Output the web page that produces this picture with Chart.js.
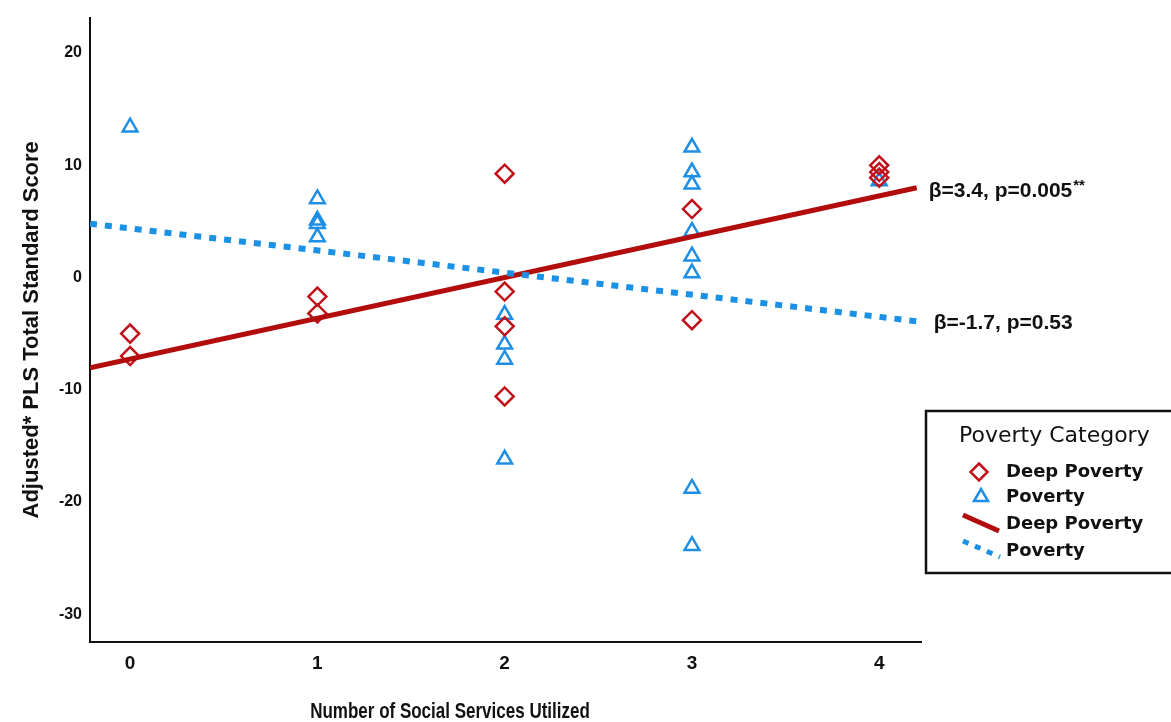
<!DOCTYPE html>
<html><head><meta charset="utf-8">
<script src="https://cdn.jsdelivr.net/npm/chart.js@4.4.0/dist/chart.umd.min.js"></script>
<style>html,body{margin:0;padding:0;background:#fff;overflow:hidden;} #wrap{width:1171px;height:722px;}</style>
</head><body><div id="wrap"><canvas id="c" width="1171" height="722"></canvas></div>
<script>
// ---- data ----
const xTicks = [0, 1, 2, 3, 4];
const yTicks = [-30, -20, -10, 0, 10, 20];
const deepX = [0, 0, 1, 1, 2, 2, 2, 2, 3, 3, 4, 4, 4];
const deepY = [-5.0, -7.0, -1.7, -3.2, 9.25, -1.25, -4.35, -10.6, 6.1, -3.8, 10.0, 9.4, 8.9];
const povX = [0, 1, 1, 1, 1, 2, 2, 2, 2, 3, 3, 3, 3, 3, 3, 3, 3, 4];
const povY = [13.4, 7.0, 5.1, 4.8, 3.6, -3.3, -5.95, -7.3, -16.2, 11.6, 9.4, 8.3, 4.1, 1.9, 0.4, -18.8, -23.9, 8.6];
const fitX = [-0.214, 4.2];
const deepFitY = [-8.05, 8.0];
const povFitY = [4.8, -3.9];
const xLimits = [-0.214, 4.223];
const yLimits = [-32.48, 23.16];
const seriesNames = ['Deep Poverty', 'Poverty'];
const legendTitle = 'Poverty Category';
const deepNote = ['β=3.4, p=0.005', '**'];
const povNote = 'β=-1.7, p=0.53';
const xTitle = 'Number of Social Services Utilized';
const yTitle = 'Adjusted* PLS Total Standard Score';

const RED = '#c0121a', RED_LINE = '#b30c0c', BLUE = '#1f8fe5', BLUE_LINE = '#1b91e6';
const pts = (xs, ys) => xs.map((x, i) => ({x: x, y: ys[i]}));

const extras = {
  id: 'extras',
  afterDraw(chart) {
    const ctx = chart.ctx, xs = chart.scales.x, ys = chart.scales.y;
    ctx.save();
    // x-axis title (tall, narrow lettering as in the reference)
    ctx.save();
    ctx.fillStyle = '#111';
    ctx.font = "bold 17px 'Liberation Sans', Arial, sans-serif";
    ctx.textAlign = 'center'; ctx.textBaseline = 'middle';
    ctx.translate(450, 712);
    ctx.scale(1, 1.3);
    ctx.fillText(xTitle, 0, 0);
    ctx.restore();
    // annotations at line ends
    ctx.fillStyle = '#111';
    ctx.textBaseline = 'middle';
    ctx.textAlign = 'left';
    ctx.font = "bold 21px 'Liberation Sans', Arial, sans-serif";
    const dx = xs.getPixelForValue(fitX[1]), dy = ys.getPixelForValue(deepFitY[1]);
    ctx.fillText(deepNote[0], dx + 12, dy + 3);
    const w = ctx.measureText(deepNote[0]).width;
    ctx.font = "bold 15px 'Liberation Sans', Arial, sans-serif";
    ctx.fillText(deepNote[1], dx + 12 + w + 1, dy - 2);
    ctx.font = "bold 21px 'Liberation Sans', Arial, sans-serif";
    const py = ys.getPixelForValue(povFitY[1]);
    ctx.fillText(povNote, dx + 17, py + 2);
    // legend box
    ctx.strokeStyle = '#111'; ctx.lineWidth = 2.5;
    ctx.strokeRect(926, 411, 270, 162);
    ctx.font = "22px 'DejaVu Sans', sans-serif";
    ctx.fillStyle = '#111';
    ctx.fillText(legendTitle, 959, 436);
    ctx.font = "bold 18px 'DejaVu Sans', sans-serif";
    const tx = 1006;
    const rows = [472, 497, 524, 551];
    // diamond
    ctx.strokeStyle = RED; ctx.lineWidth = 2.5;
    ctx.beginPath(); ctx.moveTo(979, rows[0] - 8.5); ctx.lineTo(987.5, rows[0]); ctx.lineTo(979, rows[0] + 8.5); ctx.lineTo(970.5, rows[0]); ctx.closePath(); ctx.stroke();
    // triangle
    ctx.strokeStyle = BLUE;
    ctx.beginPath(); ctx.moveTo(981, rows[1] - 8); ctx.lineTo(988, rows[1] + 4); ctx.lineTo(974, rows[1] + 4); ctx.closePath(); ctx.stroke();
    // red line
    ctx.strokeStyle = RED_LINE; ctx.lineWidth = 5; ctx.lineCap = 'butt';
    ctx.beginPath(); ctx.moveTo(963, 515); ctx.lineTo(999, 531); ctx.stroke();
    // dotted blue line
    ctx.strokeStyle = BLUE_LINE; ctx.lineWidth = 5; ctx.setLineDash([6, 7]);
    ctx.beginPath(); ctx.moveTo(963, 541); ctx.lineTo(1000, 557); ctx.stroke();
    ctx.setLineDash([]);
    ctx.fillStyle = '#111';
    ctx.fillText(seriesNames[0], tx, rows[0]);
    ctx.fillText(seriesNames[1], tx, rows[1]);
    ctx.fillText(seriesNames[0], tx, rows[2]);
    ctx.fillText(seriesNames[1], tx, rows[3]);
    ctx.restore();
  }
};

new Chart(document.getElementById('c'), {
  type: 'scatter',
  data: {
    datasets: [
      { label: seriesNames[1] + ' fit', data: pts(fitX, povFitY), showLine: true, pointRadius: 0,
        borderColor: BLUE_LINE, borderWidth: 6, borderDash: [7, 8], borderCapStyle: 'butt', order: 0 },
      { label: seriesNames[0] + ' fit', data: pts(fitX, deepFitY), showLine: true, pointRadius: 0,
        borderColor: RED_LINE, borderWidth: 5, order: 1 },
      { label: seriesNames[0], data: pts(deepX, deepY), pointStyle: 'rectRot', pointRadius: 9,
        borderColor: RED, borderWidth: 2.5, backgroundColor: 'rgba(0,0,0,0)', order: 2 },
      { label: seriesNames[1], data: pts(povX, povY), pointStyle: 'triangle', pointRadius: 8.5,
        borderColor: BLUE, borderWidth: 2.5, backgroundColor: 'rgba(0,0,0,0)', order: 3 }
    ]
  },
  options: {
    responsive: false, animation: false, devicePixelRatio: 1,
    layout: { padding: { left: 0, right: 250, top: 15, bottom: 0 } },
    plugins: { legend: { display: false }, tooltip: { enabled: false } },
    scales: {
      x: {
        type: 'linear', min: xLimits[0], max: xLimits[1],
        afterFit(s) { s.height = 80; },
        afterBuildTicks(s) { s.ticks = xTicks.map(v => ({ value: v })); },
        grid: { drawOnChartArea: false, drawTicks: false },
        border: { display: true, color: '#111', width: 2 },
        ticks: { color: '#111', padding: 10, font: { family: "'Liberation Sans', Arial", size: 19, weight: 'bold' } }
      },
      y: {
        type: 'linear', min: yLimits[0], max: yLimits[1],
        afterFit(s) { s.width = 90; },
        afterBuildTicks(s) { s.ticks = yTicks.map(v => ({ value: v })); },
        grid: { drawOnChartArea: false, drawTicks: false },
        border: { display: true, color: '#111', width: 2 },
        ticks: { color: '#111', padding: 8, font: { family: "'Liberation Sans', Arial", size: 16, weight: 'bold' } },
        title: { display: true, text: yTitle, color: '#111', padding: { top: 19, bottom: 0 },
          font: { family: "'Liberation Sans', Arial", size: 22, weight: 'bold' } }
      }
    }
  },
  plugins: [extras]
});
</script>
</body></html>
